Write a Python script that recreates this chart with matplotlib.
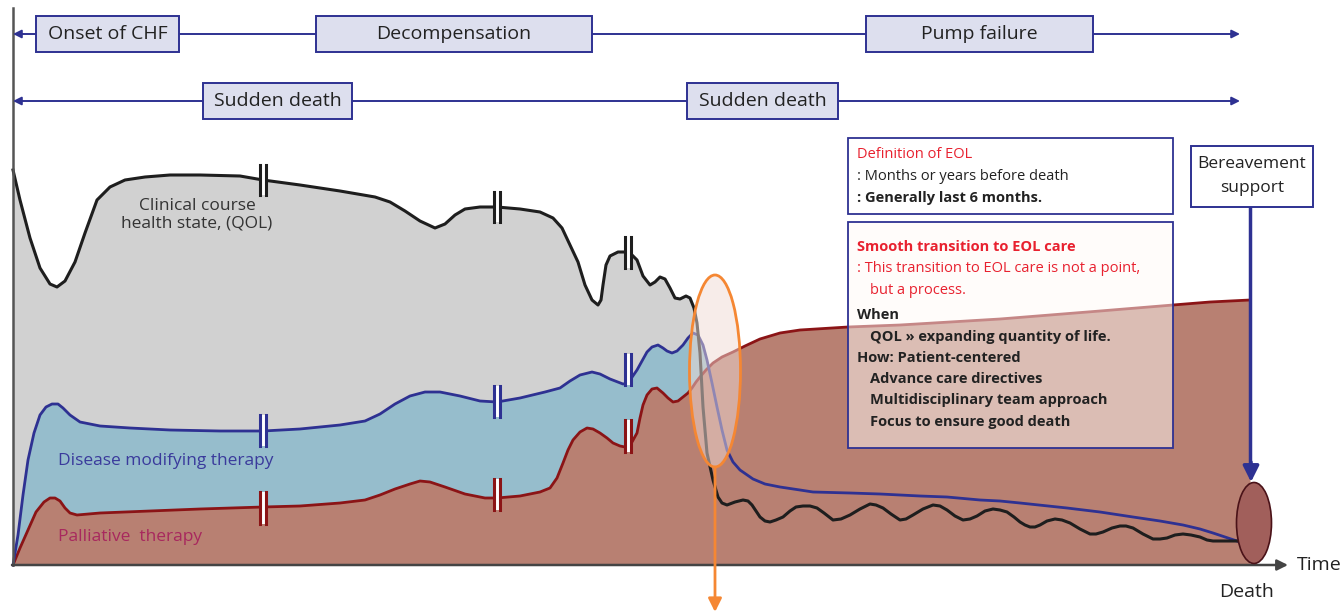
import numpy as np
import matplotlib
matplotlib.use("Agg")
import matplotlib.pyplot as plt
from matplotlib.patches import Ellipse, Rectangle

plt.rcParams['font.family'] = ['Open Sans', 'DejaVu Sans']

# curves (x, y) in pixel units, y grows downward
qol_x = [13, 20, 30, 40, 50, 57, 65, 75, 85, 97, 110, 125, 145, 170, 200, 240, 263, 300, 340, 375,
         390, 405, 420, 435, 445, 455, 465, 480, 497, 520, 540, 553, 562, 570, 578, 585, 592, 598, 601,
         603, 606, 610, 618, 625, 630, 637, 643, 650, 655, 660, 665, 670, 675, 680, 686, 690, 694, 697,
         700, 703, 707, 713, 718, 722, 727, 735, 743, 748, 752, 756, 760, 765, 770, 776, 783, 790, 796,
         803, 810, 817, 824, 833, 841, 850, 860, 870, 876, 883, 891, 900, 906, 913, 923, 933, 940, 947,
         955, 963, 970, 977, 985, 993, 1000, 1007, 1014, 1020, 1025, 1030, 1035, 1040, 1047, 1055, 1062,
         1070, 1080, 1090, 1096, 1103, 1112, 1120, 1126, 1133, 1143, 1153, 1160, 1167, 1175, 1183, 1191,
         1200, 1207, 1213, 1225, 1237]
qol_y = [170, 200, 238, 268, 284, 287, 281, 262, 233, 200, 187, 180, 177, 175, 175, 176, 180, 185, 191, 197,
         202, 211, 221, 228, 224, 215, 209, 207, 207, 209, 212, 218, 228, 245, 262, 285, 300, 305, 300,
         285, 265, 256, 252, 252, 253, 260, 276, 285, 282, 277, 279, 288, 298, 299, 296, 298, 308, 323,
         353, 407, 453, 480, 497, 503, 505, 502, 500, 501, 505, 511, 517, 521, 522, 520, 517, 511, 507,
         506, 506, 508, 513, 520, 519, 515, 509, 504, 505, 508, 514, 520, 519, 515, 509, 505, 506, 510,
         516, 520, 519, 516, 511, 509, 510, 512, 517, 522, 525, 527, 527, 525, 521, 519, 520,
         523, 529, 534, 534, 532, 528, 526, 526, 528, 534, 539, 539, 538, 535, 534, 535,
         537, 540, 541, 541, 541]

dmt_x = [13, 18, 23, 28, 34, 40, 46, 52, 58, 63, 70, 80, 100, 130, 170, 220, 263, 300, 340, 365, 380, 395,
         410, 425, 440, 460, 480, 497, 520, 545, 560, 570, 580, 592, 600, 610, 623, 628, 637, 647, 652,
         658, 663, 667, 672, 677, 683, 688, 693, 698, 703, 707, 712, 717, 722, 727, 733, 740, 753, 765,
         780, 800, 813, 850, 880, 920, 947, 980, 1000, 1020, 1067, 1100, 1133, 1160, 1183, 1200, 1213,
         1225, 1237]
dmt_y = [565, 535, 495, 460, 433, 415, 407, 404, 404, 408, 415, 422, 426, 428, 430, 431, 431, 429, 425, 421,
         414, 404, 396, 392, 392, 396, 401, 402, 398, 392, 388, 381, 375, 372, 374, 379, 384, 383, 370, 352,
         347, 345, 348, 351, 353, 351, 345, 338, 333, 335, 345, 360, 383, 407, 430, 450, 462, 470, 479, 484,
         487, 490, 492, 493, 494, 496, 497, 500, 501, 503, 508, 512, 517, 521, 525, 529, 533, 537, 541]

pal_x = [13, 20, 28, 36, 44, 50, 55, 60, 65, 70, 77, 100, 150, 200, 263, 300, 340, 365, 380, 395, 410, 420,
         430, 445, 465, 485, 497, 520, 540, 550, 557, 563, 568, 573, 580, 587, 593, 600, 607, 613, 620,
         625, 632, 637, 640, 643, 647, 652, 657, 663, 668, 673, 678, 683, 688, 692, 696, 700, 706, 713,
         722, 733, 745, 760, 780, 800, 848, 900, 950, 1000, 1050, 1100, 1173, 1210, 1250]
pal_y = [565, 548, 530, 512, 502, 498, 498, 501, 508, 513, 515, 513, 511, 509, 507, 506, 503, 500, 495, 489,
         484, 481, 482, 487, 494, 498, 498, 496, 492, 488, 478, 463, 450, 440, 432, 428, 429, 433, 438,
         443, 446, 447, 442, 433, 418, 405, 395, 389, 388, 393, 398, 402, 401, 397, 393, 388, 382, 377,
         370, 363, 357, 352, 346, 339, 333, 330, 327, 325, 322, 319, 315, 311, 305, 302, 300]

# break marks "||": x position and (top, bottom) on each curve
break_x = [263, 497, 628]
qol_breaks = [(165, 195), (192, 222), (237, 268)]
dmt_breaks = [(415, 446), (386, 417), (354, 385)]
pal_breaks = [(492, 524), (479, 510), (420, 452)]

top_row = [("Onset of CHF", 36, 179), ("Decompensation", 316, 592), ("Pump failure", 866, 1093)]
second_row = [("Sudden death", 203, 352), ("Sudden death", 687, 838)]

NAVY = "#2e3192"
GRAY_FILL = "#d1d1d1"
BLUE_FILL = "#96bdcc"
RED_FILL = "#b88072"
RED_LINE = "#8b1416"
BLUE_LINE = "#2e3192"
BLACK_LINE = "#1e1e1e"
ORANGE = "#f58733"
TXT_RED = "#e8212f"
TXT = "#222222"
BASE = 565

fig = plt.figure(figsize=(13.41, 6.15), dpi=100)
ax = fig.add_axes([0, 0, 1, 1])
ax.set_xlim(0, 1341)
ax.set_ylim(615, 0)
ax.axis("off")

# fills
ax.fill_between(qol_x, qol_y, BASE, color=GRAY_FILL, lw=0, zorder=1)
ax.fill_between(dmt_x, dmt_y, BASE, color=BLUE_FILL, lw=0, zorder=2)
ax.fill_between(pal_x, pal_y, BASE, color=RED_FILL, lw=0, zorder=3)

# curves
ax.plot(pal_x, pal_y, color=RED_LINE, lw=2, zorder=4, solid_joinstyle="round")
ax.plot(dmt_x, dmt_y, color=BLUE_LINE, lw=2, zorder=5, solid_joinstyle="round")
ax.plot(qol_x, qol_y, color=BLACK_LINE, lw=2.2, zorder=6, solid_joinstyle="round")

# break marks
for brk, col in [(qol_breaks, BLACK_LINE), (dmt_breaks, BLUE_LINE), (pal_breaks, RED_LINE)]:
    for bx, (t, b) in zip(break_x, brk):
        ax.add_patch(Rectangle((bx - 3, t), 6, b - t, facecolor="white", edgecolor="none", zorder=7))
        ax.plot([bx - 3, bx - 3], [t, b], color=col, lw=2.2, zorder=8)
        ax.plot([bx + 3, bx + 3], [t, b], color=col, lw=2.2, zorder=8)

# axes lines
ax.plot([13, 13], [8, BASE], color="#555555", lw=1.8, zorder=9)
ax.annotate("", xy=(1288, BASE), xytext=(12, BASE),
            arrowprops=dict(arrowstyle="-|>", color="#444444", lw=1.8, mutation_scale=16,
                            shrinkA=0, shrinkB=0), zorder=9)
ax.text(1297, BASE, "Time", fontsize=14, color=TXT, va="center", ha="left")
ax.text(1247, 592, "Death", fontsize=14, color=TXT, va="center", ha="center")

# curve labels
ax.text(197, 215, "Clinical course\nhealth state, (QOL)", fontsize=12.5, color="#333333",
        ha="center", va="center", linespacing=1.15, zorder=10)
ax.text(58, 461, "Disease modifying therapy", fontsize=12.5, color="#3a3a9c", ha="left", va="center", zorder=10)
ax.text(58, 537, "Palliative  therapy", fontsize=12.5, color="#a8285e", ha="left", va="center", zorder=10)

# timelines
for y, boxes in [(34, top_row), (101, second_row)]:
    ax.annotate("", xy=(1240, y), xytext=(13, y),
                arrowprops=dict(arrowstyle="<|-|>", color=NAVY, lw=1.4, mutation_scale=12,
                                shrinkA=0, shrinkB=0), zorder=10)
    for label, x0, x1 in boxes:
        ax.add_patch(Rectangle((x0, y - 18), x1 - x0, 36, facecolor="#dddfee", edgecolor=NAVY,
                               lw=1.4, zorder=11))
        ax.text((x0 + x1) / 2, y, label, fontsize=14, color=TXT, ha="center", va="center", zorder=12)

# transition ellipse
ax.add_patch(Ellipse((715, 371), 51, 192, facecolor=(0.94, 0.86, 0.83, 0.5), edgecolor=ORANGE,
                     lw=2, zorder=13))
ax.annotate("", xy=(715, 612), xytext=(715, 467),
            arrowprops=dict(arrowstyle="-|>", color=ORANGE, lw=2, mutation_scale=20,
                            shrinkA=0, shrinkB=0), zorder=13)

# death ellipse + bereavement
ax.plot([1250, 1250], [207, 470], color=NAVY, lw=2.5, zorder=12)
ax.annotate("", xy=(1251, 482), xytext=(1251, 462),
            arrowprops=dict(arrowstyle="-|>", color=NAVY, lw=2.5, mutation_scale=24,
                            shrinkA=0, shrinkB=0), zorder=12)
ax.add_patch(Ellipse((1254, 523), 35, 81, facecolor="#a15f5b", edgecolor="#4a1218", lw=1.2, zorder=13))
ax.add_patch(Rectangle((1191, 146), 122, 61, facecolor="white", edgecolor=NAVY, lw=1.4, zorder=12))
ax.text(1252, 176, "Bereavement\nsupport", fontsize=12.5, color=TXT, ha="center", va="center",
        linespacing=1.6, zorder=13)

# definition box
ax.add_patch(Rectangle((848, 138), 325, 76, facecolor="white", edgecolor=NAVY, lw=1.3, zorder=12))
ax.text(857, 155, "Definition of EOL", fontsize=10.5, color=TXT_RED, va="center", zorder=13)
ax.text(857, 176, ": Months or years before death", fontsize=10.5, color=TXT, va="center", zorder=13)
ax.text(857, 198, ": Generally last 6 months.", fontsize=10.5, color=TXT, va="center",
        fontweight="bold", zorder=13)

# transition box
ax.add_patch(Rectangle((848, 222), 325, 226, facecolor=(1, 0.98, 0.97, 0.5), edgecolor=NAVY,
                       lw=1.3, zorder=12))
lines = [
    (857, 247, "Smooth transition to EOL care", TXT_RED, "bold"),
    (857, 269, ": This transition to EOL care is not a point,", TXT_RED, "normal"),
    (870, 291, "but a process.", TXT_RED, "normal"),
    (857, 315, "When", TXT, "bold"),
    (870, 337, "QOL \u00bb expanding quantity of life.", TXT, "bold"),
    (857, 358, "How: Patient-centered", TXT, "bold"),
    (870, 379, "Advance care directives", TXT, "bold"),
    (870, 400, "Multidisciplinary team approach", TXT, "bold"),
    (870, 422, "Focus to ensure good death", TXT, "bold"),
]
for x, y, s, c, w in lines:
    ax.text(x, y, s, fontsize=10.5, color=c, fontweight=w, va="center", zorder=13)

fig.savefig("out.png", dpi=100)
